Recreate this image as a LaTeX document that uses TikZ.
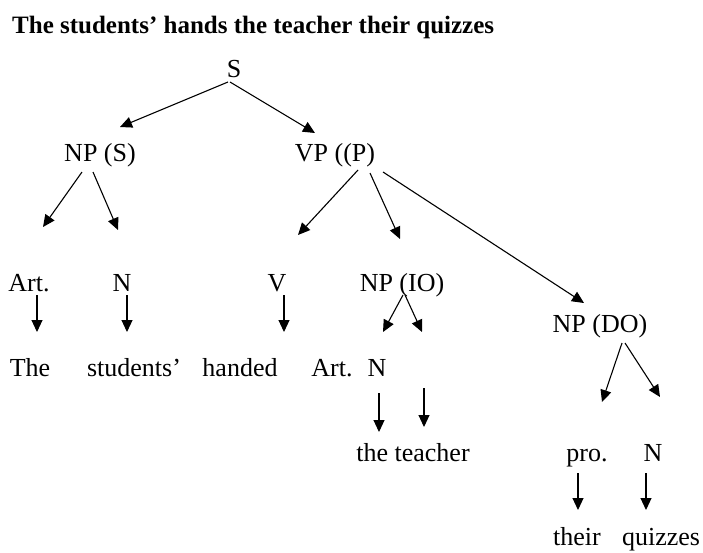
\documentclass[tikz,border=0pt]{standalone}
\usepackage{fontspec}
\setmainfont{Liberation Serif}
\usetikzlibrary{arrows.meta,calc}
\begin{document}
\begin{tikzpicture}[x=1pt,y=-1pt,
  lbl/.style={inner sep=0pt,anchor=base,font=\fontsize{26}{30}\selectfont},
  ttl/.style={inner sep=0pt,anchor=base west,font=\fontsize{25}{30}\selectfont\bfseries},
  arr/.style={line width=1.1pt,-{Triangle[length=12pt,width=11pt]}}]
\useasboundingbox[fill=white] (0,0) rectangle (703,552);
\node[ttl] (title) at (12,33) {The students’ hands the teacher their quizzes};
\node[lbl] (S) at (234,77) {S};
\node[lbl] (NPS) at (100,161) {NP (S)};
\node[lbl] (VP) at (335,161) {VP ((P)};
\node[lbl] (ArtA) at (29,291) {Art.};
\node[lbl] (NA) at (122,291) {N};
\node[lbl] (V) at (277,291) {V};
\node[lbl] (NPIO) at (402,291) {NP (IO)};
\node[lbl] (The) at (30,376) {The};
\node[lbl] (stud) at (134,376) {students’};
\node[lbl] (handed) at (240,376) {handed};
\node[lbl] (ArtB) at (332,376) {Art.};
\node[lbl] (NB) at (377,376) {N};
\node[lbl] (NPDO) at (600,332) {NP (DO)};
\node[lbl] (teacher) at (413,461) {the teacher};
\node[lbl] (pro) at (587,461) {pro.};
\node[lbl] (NC) at (653,461) {N};
\node[lbl] (their) at (577,545) {their};
\node[lbl] (quiz) at (661,545) {quizzes};
\draw[arr] ($(S.base)+(-6,5)$) -- ($(NPS.base)+(20,-34)$);
\draw[arr] ($(S.base)+(-4,5)$) -- ($(VP.base)+(-20,-28)$);
\draw[arr] ($(NPS.base)+(-18,11)$) -- ($(ArtA.base)+(14,-64)$);
\draw[arr] ($(NPS.base)+(-7,11)$) -- ($(NA.base)+(-4,-61)$);
\draw[arr] ($(VP.base)+(23,9)$) -- ($(V.base)+(21,-56)$);
\draw[arr] ($(VP.base)+(35,12)$) -- ($(NPIO.base)+(-2,-52)$);
\draw[arr] ($(VP.base)+(48,11)$) -- ($(NPDO.base)+(-16,-29)$);
\draw[arr] ($(ArtA.base)+(8,4)$) -- ($(The.base)+(7,-44)$);
\draw[arr] ($(NA.base)+(5,4)$) -- ($(stud.base)+(-7,-44)$);
\draw[arr] ($(V.base)+(7,4)$) -- ($(handed.base)+(44,-44)$);
\draw[arr] ($(NPIO.base)+(1,4)$) -- ($(ArtB.base)+(51,-44)$);
\draw[arr] ($(NPIO.base)+(3,4)$) -- ($(NB.base)+(45,-44)$);
\draw[arr] ($(NB.base)+(2,17)$) -- ($(teacher.base)+(-34,-29)$);
\draw[arr] ($(NB.base)+(47,12)$) -- ($(teacher.base)+(11,-34)$);
\draw[arr] ($(NPDO.base)+(22,11)$) -- ($(pro.base)+(15,-59)$);
\draw[arr] ($(NPDO.base)+(25,11)$) -- ($(NC.base)+(7,-64)$);
\draw[arr] ($(pro.base)+(-9,12)$) -- ($(their.base)+(1,-35)$);
\draw[arr] ($(NC.base)+(-7,12)$) -- ($(quiz.base)+(-15,-35)$);
\end{tikzpicture}
\end{document}
